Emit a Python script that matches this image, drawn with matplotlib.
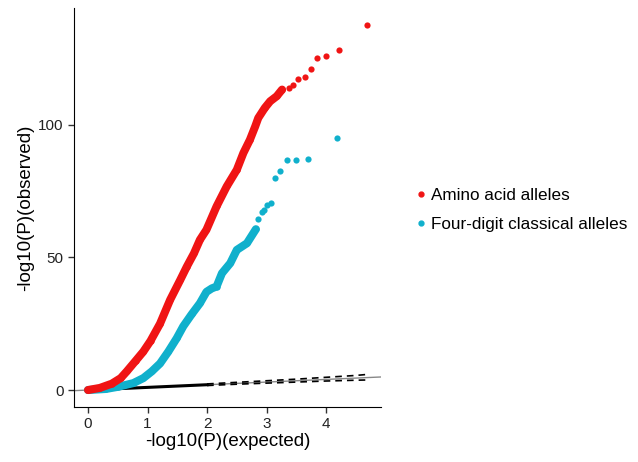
import matplotlib
matplotlib.use('Agg')
import matplotlib.pyplot as plt
from matplotlib.lines import Line2D

font = {'family': 'Liberation Sans', 'size': 10}
matplotlib.rc('font', **font)

# amino acid alleles (dense band first, then the sparse tail)
red_x = [0, 0.2, 0.4, 0.55, 0.65, 0.8, 0.93, 1.05, 1.21, 1.38, 1.55, 1.66, 1.78, 1.88,
         1.99, 2.16, 2.33, 2.5, 2.61, 2.72, 2.81, 2.86, 2.97, 3.06, 3.17, 3.26,
         3.37, 3.45, 3.53, 3.65, 3.74, 3.85, 3.99, 4.21, 4.69]
red_y = [0, 0.8, 2.4, 4.5, 7, 11, 14.5, 18.5, 25, 34, 41.5, 46.5, 51.5, 56.6,
         60.4, 69.2, 76.7, 83, 89.3, 94.3, 99.4, 102.5, 106.3, 108.8, 110.7, 113.2,
         113.8, 115.1, 117.2, 118, 120.8, 125, 126, 128, 137.5]
red_dense = 26

# four-digit classical alleles
cyan_x = [0, 0.3, 0.5, 0.76, 0.93, 1.07, 1.21, 1.35, 1.49, 1.6, 1.74, 1.88, 1.99,
          2.08, 2.16, 2.25, 2.39, 2.5, 2.67, 2.82,
          2.86, 2.92, 2.96, 3.01, 3.07, 3.14, 3.23, 3.34, 3.49, 3.70, 4.18]
cyan_y = [0, 0.4, 1.2, 2.6, 4.5, 7, 10, 14.5, 19.5, 24, 28.5, 32.7, 37,
          38.3, 39, 44, 47.8, 52.8, 55.3, 60.6,
          64.5, 67.2, 67.7, 69.9, 70.5, 80, 82.4, 86.5, 86.6, 87, 95.1]
cyan_dense = 20

# null expectation and confidence band
null_x = [0, 1, 2]
ci_x = [2, 2.5, 3, 3.5, 4, 4.5, 4.7]
ci_upper = [2.3, 2.9, 3.5, 4.1, 4.8, 5.5, 5.9]
ci_lower = [1.7, 2.2, 2.6, 3.0, 3.4, 3.7, 3.8]

red = '#F01414'
cyan = '#10B0CC'

fig = plt.figure(figsize=(6.38, 4.62), dpi=100, facecolor='white')
ax = fig.add_axes([0.116, 0.119, 0.481, 0.864])

ax.plot([-0.3, 5], [-0.3, 5], color='#888888', linewidth=1, zorder=1)
ax.plot(null_x, null_x, color='black', linewidth=2.2, zorder=2)
ax.plot(ci_x, ci_upper, color='black', linewidth=1.2, linestyle=(0, (4, 3)), zorder=2)
ax.plot(ci_x, ci_lower, color='black', linewidth=1.2, linestyle=(0, (4, 3)), zorder=2)

ax.plot(cyan_x[:cyan_dense], cyan_y[:cyan_dense], color=cyan, linewidth=5.8,
        solid_capstyle='round', solid_joinstyle='round', zorder=3)
ax.scatter(cyan_x, cyan_y, s=20, color=cyan, linewidths=0, zorder=3)
ax.plot(red_x[:red_dense], red_y[:red_dense], color=red, linewidth=5.8,
        solid_capstyle='round', solid_joinstyle='round', zorder=4)
ax.scatter(red_x, red_y, s=20, color=red, linewidths=0, zorder=4)

ax.set_xlim(-0.235, 4.92)
ax.set_ylim(-6.4, 144)
ax.set_xticks([0, 1, 2, 3, 4])
ax.set_yticks([0, 50, 100])
ax.spines['top'].set_visible(False)
ax.spines['right'].set_visible(False)
ax.tick_params(direction='out', length=4, width=1, labelsize=11, colors='#333333')
ax.tick_params(labelcolor='#222222')
ax.set_xlabel('-log10(P)(expected)', fontsize=13.5, labelpad=1)
ax.set_ylabel('-log10(P)(observed)', fontsize=13.5, labelpad=3)

handles = [Line2D([], [], marker='o', linestyle='', color=red, markersize=3.5),
           Line2D([], [], marker='o', linestyle='', color=cyan, markersize=3.5)]
fig.legend(handles, ['Amino acid alleles', 'Four-digit classical alleles'],
           loc='center left', bbox_to_anchor=(0.622, 0.545), frameon=False,
           fontsize=12.3, handletextpad=0.1, labelspacing=0.8, handlelength=1)

fig.savefig('out.png', dpi=100, facecolor='white')
